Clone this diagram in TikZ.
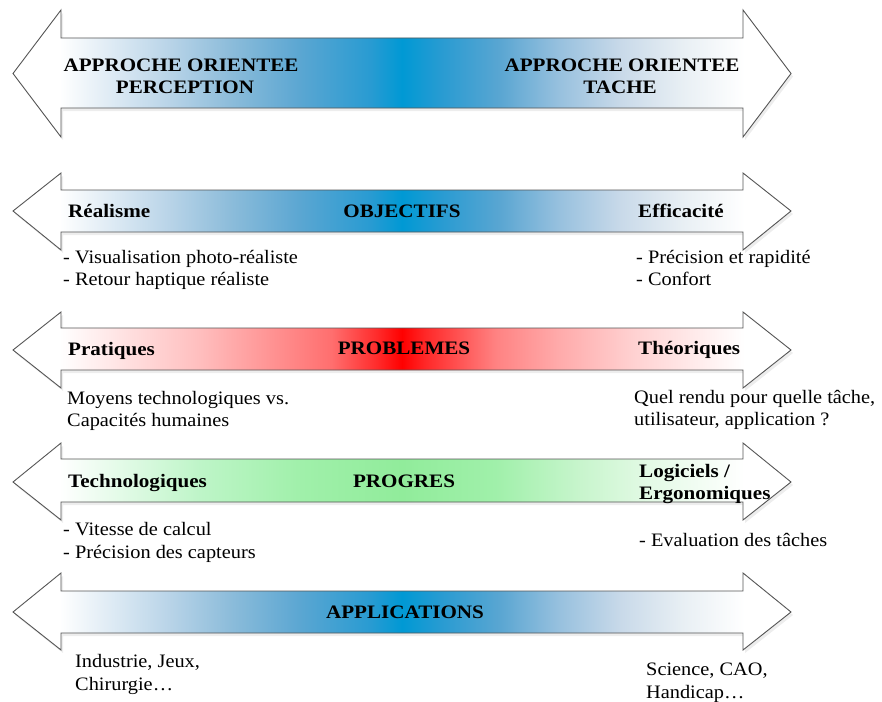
\documentclass[tikz,border=0pt]{standalone}
\usepackage{fontspec}
\setmainfont{Liberation Serif}
\newfontfamily\lblfont[FakeStretch=1.11]{Liberation Serif}
\newfontfamily\bodyfont[FakeStretch=1.07]{Liberation Serif}
\definecolor{edgegray}{RGB}{85,85,85}
\definecolor{bA}{RGB}{185,212,232}
\definecolor{bB}{RGB}{140,188,218}
\definecolor{bC}{RGB}{90,166,210}
\definecolor{bD}{RGB}{40,155,210}
\definecolor{bE}{RGB}{0,153,212}
\definecolor{bF}{RGB}{150,192,222}
\definecolor{bG}{RGB}{200,217,233}
\definecolor{bH}{RGB}{232,239,244}
\definecolor{rA}{RGB}{255,190,190}
\definecolor{rB}{RGB}{255,110,110}
\definecolor{rC}{RGB}{255,40,40}
\definecolor{rD}{RGB}{255,0,0}
\definecolor{rE}{RGB}{255,130,130}
\definecolor{rF}{RGB}{255,170,170}
\definecolor{rG}{RGB}{255,210,210}
\definecolor{gA}{RGB}{190,245,200}
\definecolor{gB}{RGB}{160,240,170}
\definecolor{gC}{RGB}{145,236,155}
\definecolor{gD}{RGB}{200,245,205}
\definecolor{gE}{RGB}{228,250,230}
\pgfdeclarehorizontalshading{blueband}{100bp}{color(0bp)=(white); color(28bp)=(white); color(35bp)=(bA); color(39bp)=(bB); color(43.5bp)=(bC); color(48bp)=(bD); color(50bp)=(bE); color(52.5bp)=(bD); color(56.3bp)=(bC); color(60bp)=(bF); color(64bp)=(bG); color(68bp)=(bH); color(72bp)=(white); color(100bp)=(white)}
\pgfdeclarehorizontalshading{redband}{100bp}{color(0bp)=(white); color(28bp)=(white); color(37bp)=(rA); color(45.5bp)=(rB); color(48.5bp)=(rC); color(50bp)=(rD); color(51.5bp)=(rC); color(56bp)=(rE); color(60bp)=(rF); color(65bp)=(rG); color(72bp)=(white); color(100bp)=(white)}
\pgfdeclarehorizontalshading{greenband}{100bp}{color(0bp)=(white); color(28bp)=(white); color(37bp)=(gA); color(43.5bp)=(gB); color(50bp)=(gC); color(56bp)=(gB); color(61.5bp)=(gD); color(66bp)=(gE); color(72bp)=(white); color(100bp)=(white)}
\newcommand\bandarrow[6]{%
  % #1 head top, #2 shaft top, #3 shaft bottom, #4 head bottom, #5 tip y, #6 shading
  \fill[black!7] ([shift={(2,3)}]13,#5) -- ([shift={(2,3)}]61,#1) -- ([shift={(2,3)}]61,#2) -- ([shift={(2,3)}]743,#2) -- ([shift={(2,3)}]743,#1) -- ([shift={(2,3)}]791,#5) -- ([shift={(2,3)}]743,#4) -- ([shift={(2,3)}]743,#3) -- ([shift={(2,3)}]61,#3) -- ([shift={(2,3)}]61,#4) -- cycle;
  \shadedraw[arrowline, shading=#6] (13,#5) -- (61,#1) -- (61,#2) -- (743,#2) -- (743,#1) -- (791,#5) -- (743,#4) -- (743,#3) -- (61,#3) -- (61,#4) -- cycle;}
\begin{document}
\begin{tikzpicture}[x=1pt,y=-1pt,
  arrowline/.style={draw=edgegray, line width=0.9pt, line join=miter},
  lbl/.style={font=\lblfont\bfseries\fontsize{19}{22}\selectfont, inner sep=0pt, anchor=base west},
  lblc/.style={lbl, anchor=base},
  body/.style={font=\bodyfont\fontsize{19}{22}\selectfont, inner sep=0pt, anchor=base west}]
\useasboundingbox (0,0) rectangle (882,701);
% arrows
\bandarrow{10}{38}{108}{137}{73.5}{blueband}
\bandarrow{173}{190}{232}{250}{211}{blueband}
\bandarrow{312}{328}{370}{388}{350}{redband}
\bandarrow{443}{459}{502}{520}{482}{greenband}
\bandarrow{573}{591}{633}{650}{612}{blueband}
% top arrow titles
\node[lblc] (pl1) at (181,71) {APPROCHE ORIENTEE};
\node[lblc] (pl2) at (185,93) {PERCEPTION};
\node[lblc] (tr1) at (622,71) {APPROCHE ORIENTEE};
\node[lblc] (tr2) at (620,93) {TACHE};
% objectifs
\node[lbl] (real) at (68,217) {Réalisme};
\node[lblc] (obj) at (402,217) {OBJECTIFS};
\node[lbl] (eff) at (638,217) {Efficacité};
\node[body] (o1) at (63,263) {- Visualisation photo-réaliste};
\node[body] (o2) at (63,285) {- Retour haptique réaliste};
\node[body] (o3) at (636,263) {- Précision et rapidité};
\node[body] (o4) at (636,285) {- Confort};
% problemes
\node[lbl] (prat) at (68,355) {Pratiques};
\node[lblc] (prob) at (404,354) {PROBLEMES};
\node[lbl] (theo) at (638,354) {Théoriques};
\node[body] (p1) at (67,404) {Moyens technologiques vs.};
\node[body] (p2) at (67,426) {Capacités humaines};
\node[body] (p3) at (634,403) {Quel rendu pour quelle tâche,};
\node[body] (p4) at (634,425) {utilisateur, application ?};
% progres
\node[lbl] (tech) at (68,487) {Technologiques};
\node[lblc] (prog) at (404,487) {PROGRES};
\node[lbl] (log1) at (639,477) {Logiciels /};
\node[lbl] (log2) at (639,499) {Ergonomiques};
\node[body] (g1) at (63,535) {- Vitesse de calcul};
\node[body] (g2) at (63,558) {- Précision des capteurs};
\node[body] (g3) at (639,546) {- Evaluation des tâches};
% applications
\node[lblc] (app) at (405,618) {APPLICATIONS};
\node[body] (a1) at (75,667) {Industrie, Jeux,};
\node[body] (a2) at (75,690) {Chirurgie…};
\node[body] (a3) at (646,675) {Science, CAO,};
\node[body] (a4) at (646,698) {Handicap…};
\end{tikzpicture}
\end{document}
